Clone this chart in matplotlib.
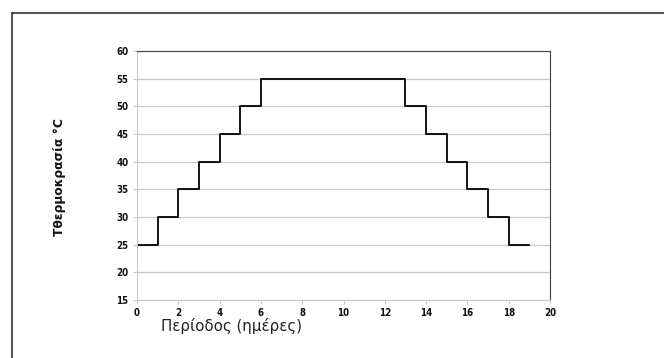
import matplotlib.pyplot as plt
from matplotlib.lines import Line2D

# heating schedule: day -> temperature (held until next day)
days = [0, 1, 2, 3, 4, 5, 6, 7, 8, 9, 10, 11, 12, 13, 14, 15, 16, 17, 18, 19]
temps = [25, 30, 35, 40, 45, 50, 55, 55, 55, 55, 55, 55, 55, 50, 45, 40, 35, 30, 25, 25]

xticks = list(range(0, 21, 2))
yticks = list(range(15, 61, 5))

fig = plt.figure(figsize=(6.64, 3.58), dpi=100)
ax = fig.add_axes([137/664, 1-300/358, (550-137)/664, (300-51)/358])

ax.step(days, temps, where='post', color='black', lw=1.3)

ax.set_xlim(0, 20)
ax.set_ylim(15, 60)
ax.set_xticks(xticks)
ax.set_yticks(yticks)
ax.yaxis.grid(True, color='#c8c8c8', lw=0.9)
ax.set_axisbelow(True)

for s in ['left', 'bottom']:
    ax.spines[s].set_color('#c8c8c8')
for s in ['top', 'right']:
    ax.spines[s].set_color('#404040')
ax.tick_params(length=3, width=0.8, color='#c8c8c8', pad=3)
for lab in ax.get_xticklabels() + ax.get_yticklabels():
    lab.set_fontsize(7)
    lab.set_fontweight('bold')
    lab.set_fontstretch('condensed')
    lab.set_color('#111111')

fig.text(232/664, 1-326/358, 'Περίοδος (ημέρες)', ha='center', va='center',
         fontsize=10.8, color='#222222')
fig.text(60/664, 1-177/358, 'Τθερμοκρασία °C', ha='center', va='center',
         rotation=90, fontsize=8.8, fontweight='bold', color='#111111')

# outer chart frame (left and top edges)
fig.add_artist(Line2D([12/664, 12/664], [0, 1-13/358], color='#333333', lw=1.2,
                      transform=fig.transFigure))
fig.add_artist(Line2D([12/664, 1], [1-13/358, 1-13/358], color='#333333', lw=1.2,
                      transform=fig.transFigure))

fig.savefig('out.png', dpi=100)
